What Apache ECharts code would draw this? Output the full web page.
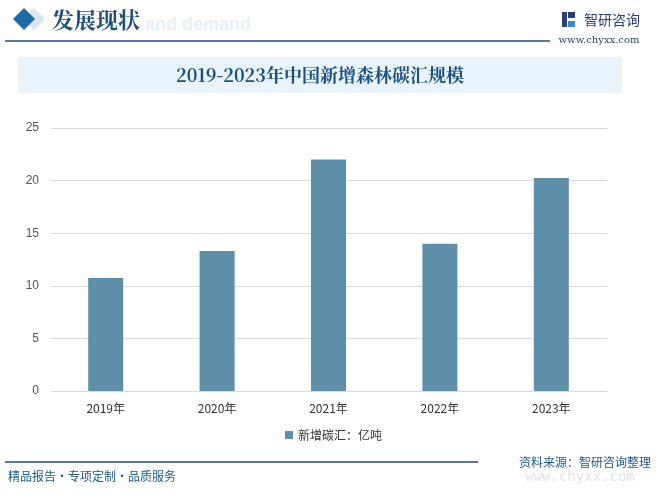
<!DOCTYPE html>
<html><head><meta charset="utf-8">
<script src="https://cdn.jsdelivr.net/npm/echarts@6/dist/echarts.min.js"></script>
<style>html,body{margin:0;padding:0;background:#fff}#c{width:667px;height:498px}</style>
</head><body><div id="c"></div>
<script>
const categories = ['2019年','2020年','2021年','2022年','2023年'];
const carbonSink = [10.75, 13.3, 22, 14, 20.25];
const seriesName = '新增碳汇：亿吨';
const yTicks = [0, 5, 10, 15, 20, 25];

const chart = echarts.init(document.getElementById('c'));
const dark = '#1b4f7e';
chart.setOption({
  animation: false,
  backgroundColor: '#fff',
  grid: { left: 50, right: 60, top: 128, bottom: 107, containLabel: false },
  xAxis: {
    type: 'category', data: categories,
    axisLine: { show: false }, axisTick: { show: false },
    axisLabel: { color: '#333', fontSize: 12, margin: 11, fontFamily: 'Noto Sans CJK SC' }
  },
  yAxis: {
    type: 'value', min: yTicks[0], max: yTicks[yTicks.length-1], interval: 5,
    axisLine: { show: false }, axisTick: { show: false },
    axisLabel: { color: '#555', fontSize: 12, margin: 11 },
    splitLine: { lineStyle: { color: '#d9d9d9', width: 1 } }
  },
  legend: {
    data: [seriesName], bottom: 52, left: 'center', itemWidth: 8, itemHeight: 8, itemGap: 5,
    icon: 'rect', textStyle: { color: '#333', fontSize: 12, fontFamily: 'Noto Sans CJK SC' }
  },
  series: [{
    name: seriesName, type: 'bar', data: carbonSink, barWidth: 35,
    itemStyle: { color: '#5d90a8' }
  }],
  graphic: [
    { type: 'rect', shape: { x: 18, y: 57, width: 604, height: 36 }, style: { fill: '#e8f3fb' }, z: -1 },
    { type: 'text', x: 320, y: 75, style: { text: '2019-2023年中国新增森林碳汇规模', fill: dark, font: 'bold 18px "Noto Serif CJK SC", "Noto Sans CJK SC", serif', align: 'center', verticalAlign: 'middle' } },
    { type: 'text', x: 145, y: 25, style: { text: 'and demand', fill: '#e6eef6', font: 'bold 18px Arial, sans-serif', verticalAlign: 'middle' }, z: -1 },
    { type: 'polygon', shape: { points: [[34,8],[45,19],[34,30],[23,19]] }, style: { fill: '#d6e6f2' }, z: -1 },
    { type: 'polygon', shape: { points: [[24,8],[35,19],[24,30],[13,19]] }, style: { fill: '#1c6aa6' } },
    { type: 'text', x: 52, y: 20, style: { text: '发展现状', fill: dark, font: 'bold 22px "Noto Serif CJK SC", "Noto Sans CJK SC", serif', verticalAlign: 'middle' } },
    { type: 'line', shape: { x1: 5, y1: 41, x2: 550, y2: 41 }, style: { stroke: dark, lineWidth: 1.5 } },
    { type: 'rect', shape: { x: 562, y: 12, width: 5, height: 15 }, style: { fill: '#2a3f7a' } },
    { type: 'rect', shape: { x: 568, y: 12, width: 7, height: 6 }, style: { fill: '#2a3f7a' } },
    { type: 'rect', shape: { x: 568, y: 21, width: 7, height: 6 }, style: { fill: '#3a8ad0' } },
    { type: 'text', x: 584, y: 20, style: { text: '智研咨询', fill: '#2a3f7a', font: '14px "Noto Sans CJK SC", sans-serif', verticalAlign: 'middle' } },
    { type: 'text', x: 599, y: 40, style: { text: 'www.chyxx.com', fill: '#2a3f7a', font: '10px "DejaVu Serif", serif', align: 'center', verticalAlign: 'middle' } },
    { type: 'line', shape: { x1: 5, y1: 462, x2: 478, y2: 462 }, style: { stroke: dark, lineWidth: 1.5 } },
    { type: 'text', x: 8, y: 476, style: { text: '精品报告・专项定制・品质服务', fill: '#1c5a96', font: '12px "Noto Sans CJK SC", sans-serif', verticalAlign: 'middle' } },
    { type: 'text', x: 651, y: 462, style: { text: '资料来源：智研咨询整理', fill: '#1c5a96', font: '12px "Noto Sans CJK SC", sans-serif', align: 'right', verticalAlign: 'middle' } },
    { type: 'text', x: 580, y: 477, style: { text: 'www.chyxx.com', fill: '#dde3ea', font: '14px "DejaVu Sans Mono", monospace', align: 'center', verticalAlign: 'middle' }, z: -1 }
  ]
});
</script></body></html>
